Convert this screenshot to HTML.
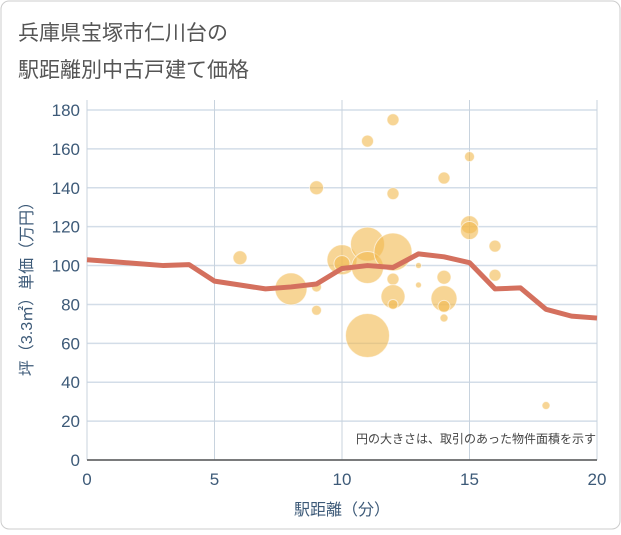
<!DOCTYPE html>
<html><head><meta charset="utf-8"><style>
body{margin:0;background:#fff;font-family:"Liberation Sans","Noto Sans CJK JP",sans-serif;}
#wrap{position:relative;width:621px;height:530px;}
</style></head><body>
<div id="wrap">
<svg id="chart" width="621" height="530" xmlns="http://www.w3.org/2000/svg">
<rect x="1" y="1" width="619" height="528" rx="8" fill="#fff" stroke="#cccccc"/>
<text x="18" y="40" font-size="21" fill="#555">兵庫県宝塚市仁川台の</text>
<text x="18" y="77" font-size="21" fill="#555">駅距離別中古戸建て価格</text>
<g id="grid"></g><g id="bubbles"></g><g id="line"></g><g id="axes"></g>
<text x="596" y="443" font-size="12" fill="#444" text-anchor="end">円の大きさは、取引のあった物件面積を示す</text>
<text x="342" y="515" font-size="16" fill="#3d5a78" text-anchor="middle">駅距離（分）</text>
<text transform="translate(32,285) rotate(-90)" font-size="16" fill="#3d5a78" text-anchor="middle">坪（3.3㎡）単価（万円）</text>
</svg>
</div>
<script>
const xTicks=[0,5,10,15,20];
const yTicks=[0,20,40,60,80,100,120,140,160,180];
const bubbleX=[6,8,9,9,9,10,10,11,11,11,11,12,12,12,12,12,12,13,13,14,14,14,14,14,15,15,15,16,16,18];
const bubbleY=[104,88,140,89,77,103,101,111,99,64,164,175,137,107,93,84,80,100,90,145,94,83,79,73,156,121,118,110,95,28];
const bubbleR=[7,16,7,5,5,15,8,17,16,22,6,6,6,19,6,12,5,3,3,6,7,13,6,4,5,9,9,6,6,4];
const lineX=[0,1,2,3,4,5,6,7,8,9,10,11,12,13,14,15,16,17,18,19,20];
const lineY=[103,102,101,100,100.5,92,90,88,89,90.5,98.5,100,99,106,104.5,101.5,88,88.5,77.5,74,73];
const NS="http://www.w3.org/2000/svg";
const X0=87,X1=597,Y0=460,Y1=110;
const sx=v=>X0+(v-0)/(20-0)*(X1-X0);
const sy=v=>Y0-(v-0)/(180-0)*(Y0-Y1);
function mk(tag,attrs,parent){const e=document.createElementNS(NS,tag);for(const k in attrs)e.setAttribute(k,attrs[k]);parent.appendChild(e);return e;}
const grid=document.getElementById('grid'),axes=document.getElementById('axes');
yTicks.forEach(t=>{
 const l=mk('line',{x1:X0,x2:X1,y1:sy(t),y2:sy(t),stroke:'#d3dde8','stroke-width':1.5},grid);
 
 
 const tx=mk('text',{x:X0-7,y:sy(t)+6,'font-size':17,fill:'#3d5a78','text-anchor':'end'},axes);
 tx.textContent=t;
 
 
});
xTicks.forEach(t=>{
 const l=mk('line',{x1:sx(t),x2:sx(t),y1:Y1-10,y2:Y0,stroke:'#c8d3de','stroke-width':1},grid);
 
 
 const tx=mk('text',{x:sx(t),y:Y0+25,'font-size':17,fill:'#3d5a78','text-anchor':'middle'},axes);
 tx.textContent=t;
 
 
});
const bx=mk('line',{x1:X0,x2:X1,y1:Y0,y2:Y0,stroke:'#555','stroke-width':1.5},axes);


const bg=document.getElementById('bubbles');
bubbleX.forEach((v,i)=>{
 const c=mk('circle',{cx:sx(v),cy:sy(bubbleY[i]),r:bubbleR[i],fill:'#f2b94f','fill-opacity':0.6,stroke:'#fff','stroke-opacity':0.6,'stroke-width':1},bg);
 
 
});
const p=mk('polyline',{points:lineX.map((v,i)=>sx(v)+','+sy(lineY[i])).join(' '),fill:'none',stroke:'#d4705e','stroke-width':5,'stroke-linejoin':'round'},document.getElementById('line'));


</script>
</body></html>
